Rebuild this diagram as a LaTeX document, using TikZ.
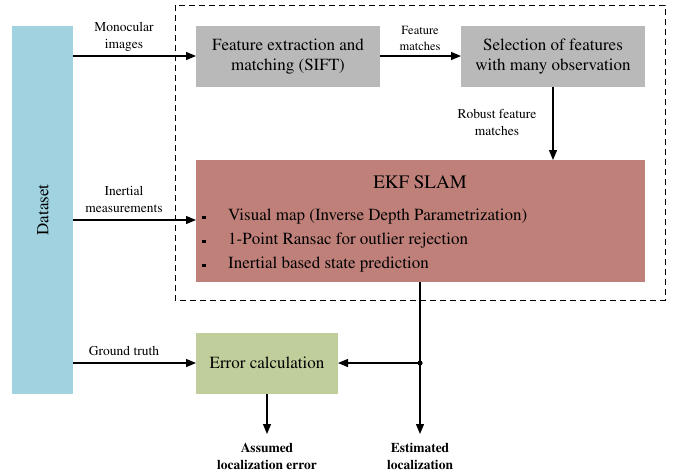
\documentclass[tikz,border=0pt]{standalone}
\usepackage[T1]{fontenc}
\renewcommand{\rmdefault}{ptm}
\usetikzlibrary{arrows.meta,positioning}
\definecolor{dsblue}{RGB}{160,210,224}
\definecolor{boxgray}{RGB}{185,185,185}
\definecolor{ekfred}{RGB}{192,128,122}
\definecolor{errgreen}{RGB}{192,206,155}
\tikzset{
  x=1pt,y=-1pt,
  blk/.style={inner sep=0pt,align=center,font=\fontsize{17}{20}\selectfont},
  lbl/.style={inner sep=0pt,align=center,font=\fontsize{13.5}{17}\selectfont},
  outl/.style={inner sep=0pt,align=center,font=\bfseries\fontsize{13.5}{17}\selectfont},
  itm/.style={inner sep=0pt,anchor=west,font=\fontsize{17}{20}\selectfont},
  arr/.style={line width=1.2pt,-{Triangle[length=10pt,width=8pt]}}
}
\begin{document}
\begin{tikzpicture}
\useasboundingbox (0,0) rectangle (677,475);
% dashed frame
\draw[line width=0.8pt,dash pattern=on 6pt off 4pt] (175,5) rectangle (665,300);
% boxes
\fill[dsblue] (12,26) rectangle (73,394);
\node[rotate=90,blk] (ds) at (43,210) {Dataset};
\coordinate (dsE1) at (73,56);
\coordinate (dsE2) at (73,220);
\coordinate (dsE3) at (73,363);

\fill[boxgray] (196,26) rectangle (380,87);
\node[blk] (fe) at (288,56.5) {Feature extraction and\\matching (SIFT)};
\coordinate (feW) at (196,56);
\coordinate (feE) at (380,56);

\fill[boxgray] (461,26) rectangle (645,87);
\node[blk] (sel) at (553,56.5) {Selection of features\\with many observation};
\coordinate (selW) at (461,56);
\coordinate (selS) at (553,87);

\fill[ekfred] (196,160) rectangle (645,282);
\node[inner sep=0pt,font=\fontsize{19}{22}\selectfont] (ekf) at (420,182) {EKF SLAM};
\coordinate (ekfN) at (553,160);
\coordinate (ekfW) at (196,220);
\coordinate (ekfS) at (420,282);
\node[itm] (b1) at (228,217) {Visual map (Inverse Depth Parametrization)};
\node[itm] (b2) at (228,241) {1-Point Ransac for outlier rejection};
\node[itm] (b3) at (228,265) {Inertial based state prediction};
\foreach \yy in {217,241,265} \fill (202,\yy-1.5) rectangle (205.5,\yy+2);

\fill[errgreen] (196,333) rectangle (338,394);
\node[blk] (err) at (267,363) {Error calculation};
\coordinate (errW) at (196,363);
\coordinate (errE) at (338,363);
\coordinate (errS) at (267,394);

% arrows
\draw[arr] (dsE1) -- (feW);
\draw[arr] (feE) -- (selW);
\draw[arr] (selS) -- (ekfN);
\draw[arr] (dsE2) -- (ekfW);
\draw[arr] (dsE3) -- (errW);
\coordinate (dot) at (420,363);
\coordinate (estEnd) at (420,434);
\coordinate (assEnd) at (267,434);
\draw[arr] (ekfS) -- (estEnd);
\draw[arr] (dot) -- (errE);
\fill (dot) circle (2.6pt);
\draw[arr] (errS) -- (assEnd);

% labels
\node[lbl] (l1) at (124,37) {Monocular\\images};
\node[lbl,font=\fontsize{12.5}{16}\selectfont] (l2) at (420,38) {Feature\\matches};
\node[lbl] (l3) at (497,122) {Robust feature\\matches};
\node[lbl] (l4) at (124,199) {Inertial\\measurements};
\node[lbl] (l5) at (124,351) {Ground truth};
\node[outl] (o1) at (267,456) {Assumed\\localization error};
\node[outl] (o2) at (420,456) {Estimated\\localization};
\end{tikzpicture}
\end{document}
